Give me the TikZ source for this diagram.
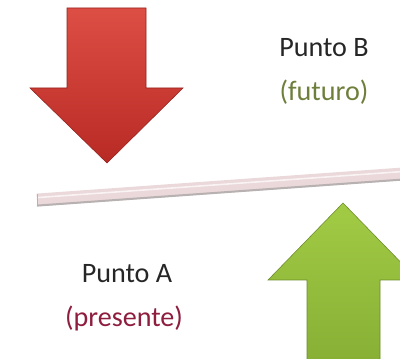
\documentclass[tikz,border=0pt]{standalone}
\usepackage{fontspec}
\setmainfont{Carlito}
\usetikzlibrary{positioning, calc}

\definecolor{arrowred}{HTML}{D93A30}
\definecolor{arrowreddark}{HTML}{B82A24}
\definecolor{arrowgreen}{HTML}{A2CB45}
\definecolor{arrowgreendark}{HTML}{86AE34}
\definecolor{rodpink}{HTML}{EAD8DA}
\definecolor{rodshade}{HTML}{9A9090}
\definecolor{futurogreen}{HTML}{6E7F3C}
\definecolor{presentered}{HTML}{8E1D3E}

\begin{document}
\begin{tikzpicture}[
    x=0.025cm, y=-0.025cm,
    puntolabel/.style={font=\fontsize{20}{24}\selectfont, text=black!85, inner sep=1pt},
    timelabel/.style={font=\fontsize{20}{24}\selectfont, inner sep=1pt},
    bigarrow/.style={line width=0.4pt, line join=miter},
    rod/.style={line width=0.32cm, draw=rodpink},
    rodedge/.style={line width=0.05cm, draw=rodshade!70},
    rodlight/.style={line width=0.04cm, draw=white!70!rodpink}
]

\clip (0,0) rectangle (400,359);

% ============ ARROWS ============

% red arrow pointing down (top left)
\path[bigarrow, draw=arrowreddark!80!black, top color=arrowred!90!white, bottom color=arrowreddark]
    (67,8) -- (146,8) -- (146,88) -- (183,88) -- (107,163) -- (30,88) -- (67,88) -- cycle;

% green arrow pointing up (bottom right)
\path[bigarrow, draw=arrowgreendark!80!black, top color=arrowgreen, bottom color=arrowgreendark]
    (343,203) -- (418,280) -- (380,280) -- (380,370) -- (307,370) -- (307,280) -- (268,280) -- cycle;

% ============ TIME LINE ============
\coordinate (rodL) at (37,200);
\coordinate (rodR) at (402,174);

\draw[rod] (rodL) -- (rodR);
\draw[rodedge] ([yshift=-0.14cm]rodL) -- ([yshift=-0.14cm]rodR);
\draw[rodlight] ([yshift=0.06cm]rodL) -- ([yshift=0.06cm]rodR);
\draw[rodedge, line width=0.6pt] ([yshift=0.16cm]rodL) -- ([yshift=-0.16cm]rodL);

% ============ LABELS ============
\node[puntolabel] (puntob) at (324,48) {Punto B};
\node[timelabel, text=futurogreen] (futuro) at ($(puntob)+(0,44)$) {(futuro)};

\node[puntolabel] (puntoa) at (127,274) {Punto A};
\node[timelabel, text=presentered] (presente) at ($(puntoa)+(-3,44)$) {(presente)};

\end{tikzpicture}
\end{document}
